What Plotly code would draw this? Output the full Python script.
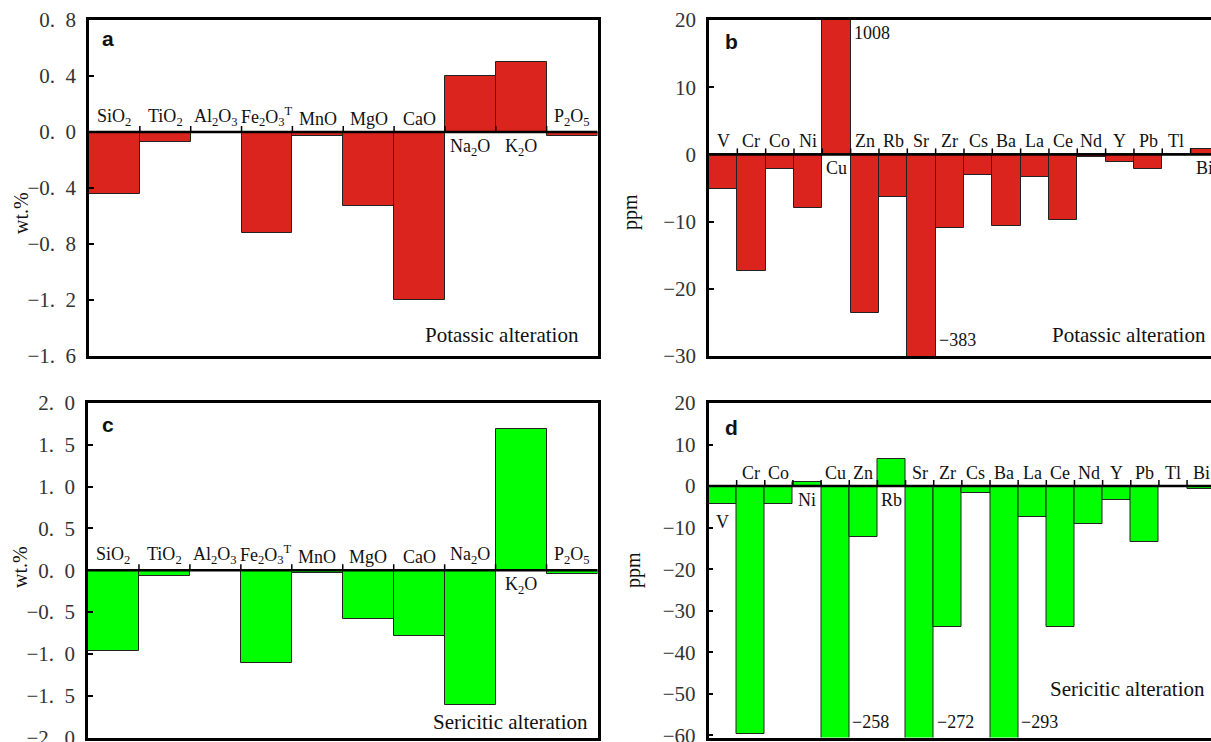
import plotly.graph_objects as go

# ---------------- data ----------------
oxides = ["SiO<sub>2</sub>", "TiO<sub>2</sub>", "Al<sub>2</sub>O<sub>3</sub>",
          "Fe<sub>2</sub>O<sub>3</sub><sup>T</sup>", "MnO", "MgO", "CaO",
          "Na<sub>2</sub>O", "K<sub>2</sub>O", "P<sub>2</sub>O<sub>5</sub>"]
potassic_major = [-0.44, -0.07, 0.0, -0.72, -0.03, -0.53, -1.20, 0.40, 0.50, -0.03]
sericitic_major = [-0.97, -0.07, 0.0, -1.11, -0.03, -0.58, -0.79, -1.61, 1.69, -0.05]

elements = ["V", "Cr", "Co", "Ni", "Cu", "Zn", "Rb", "Sr", "Zr", "Cs",
            "Ba", "La", "Ce", "Nd", "Y", "Pb", "Tl", "Bi"]
potassic_trace = [-5.1, -17.3, -2.1, -8.0, 1008, -23.6, -6.4, -383, -11.0, -3.0,
                  -10.6, -3.4, -9.7, -0.4, -1.2, -2.1, 0.0, 0.8]
sericitic_trace = [-4.3, -59.6, -4.3, 1.0, -258, -12.2, 6.6, -272, -33.9, -1.7,
                   -293, -7.4, -33.9, -9.0, -3.4, -13.4, 0.0, -0.8]

ticks_a = [0.8, 0.4, 0.0, -0.4, -0.8, -1.2, -1.6]
ticks_b = [20, 10, 0, -10, -20, -30]
ticks_c = [2.0, 1.5, 1.0, 0.5, 0.0, -0.5, -1.0, -1.5, -2.0]
ticks_d = [20, 10, 0, -10, -20, -30, -40, -50, -60]

RED = "#DC241F"
GREEN = "#00FF00"
SERIF = "Liberation Serif, Times New Roman, serif"
W, H = 1211, 742


def px(x):
    return x / W


def py(y):
    return 1 - y / H


def fmt_major(v):
    s = f"{v:.1f}".replace(".", ".\u2002")
    return s.replace("-", "\u2212")


def fmt_int(v):
    return f"{v:g}".replace("-", "\u2212")


fig = go.Figure()

panels = [
    dict(cats=oxides, vals=potassic_major, color=RED, xa="x", ya="y",
         yr=[-1.6, 0.8], ticks=ticks_a, fmt=fmt_major, xend=9.5,
         xdom=[px(89), px(597.5)], ydom=[py(356), py(20)],
         letter="a", letpos=(108, 39), alt="Potassic alteration", altpos=(581, 335), box=True,
         ytitle="wt.%", ytpos=(21, 213)),
    dict(cats=elements, vals=potassic_trace, color=RED, xa="x2", ya="y2",
         yr=[-30, 20], ticks=ticks_b, fmt=fmt_int, xend=17.22,
         xdom=[px(709), 1.0], ydom=[py(356), py(20)],
         letter="b", letpos=(731, 42), alt="Potassic alteration", altpos=(1208, 335), box=False,
         ytitle="ppm", ytpos=(630, 212)),
    dict(cats=oxides, vals=sericitic_major, color=GREEN, xa="x3", ya="y3",
         yr=[-2.0, 2.0], ticks=ticks_c, fmt=fmt_major, xend=9.5,
         xdom=[px(88), px(597.5)], ydom=[py(737.5), py(403)],
         letter="c", letpos=(108, 424), alt="Sericitic alteration", altpos=(590, 722), box=True,
         ytitle="wt.%", ytpos=(20, 567)),
    dict(cats=elements, vals=sericitic_trace, color=GREEN, xa="x4", ya="y4",
         yr=[-60.5, 20], ticks=ticks_d, fmt=fmt_int, xend=17.35,
         xdom=[px(708.5), 1.0], ydom=[py(737.5), py(403)],
         letter="d", letpos=(731, 427), alt="Sericitic alteration", altpos=(1207, 689), box=False,
         ytitle="ppm", ytpos=(633, 570)),
]

annotations = []
shapes = []
layout_axes = {}
LABEL_FONT = dict(family=SERIF, size=18, color="#111")

for p in panels:
    n = len(p["cats"])
    idx = list(range(n))
    fig.add_trace(go.Bar(
        x=idx, y=p["vals"], xaxis=p["xa"], yaxis=p["ya"], width=1.0,
        marker=dict(color=p["color"], line=dict(color="#222222", width=1)),
        hoverinfo="skip", showlegend=False,
    ))
    xkey = "xaxis" if p["xa"] == "x" else "xaxis" + p["xa"][1:]
    ykey = "yaxis" if p["ya"] == "y" else "yaxis" + p["ya"][1:]
    layout_axes[xkey] = dict(
        domain=p["xdom"], range=[-0.5, p["xend"]], anchor=p["ya"], automargin=False,
        showline=True, linecolor="black", linewidth=2.5, mirror=True,
        showticklabels=False, ticks="", showgrid=False, zeroline=False,
    )
    layout_axes[ykey] = dict(
        domain=p["ydom"], range=p["yr"], anchor=p["xa"], automargin=False,
        showline=True, linecolor="black", linewidth=2.5, mirror=p["box"],
        ticks="inside", ticklen=5, tickwidth=1.5, tickcolor="black",
        tickmode="array",
        tickvals=p["ticks"], ticktext=[p["fmt"](t) for t in p["ticks"]],
        tickfont=dict(family=SERIF, size=21, color="#333333"),
        ticklabelstandoff=6, ticklabeloverflow="allow",
        showgrid=False, zeroline=False,
    )
    # zero line
    shapes.append(dict(type="line", xref=p["xa"], yref=p["ya"], x0=-0.5, x1=n - 0.5,
                       y0=0, y1=0, line=dict(color="black", width=2.5), layer="above"))
    # boundary ticks on zero line
    for k in range(n - 1):
        shapes.append(dict(type="line", xref=p["xa"], yref=p["ya"], ysizemode="pixel",
                           yanchor=0, x0=k + 0.5, x1=k + 0.5, y0=0, y1=6,
                           line=dict(color="black", width=1.5), layer="above"))
    # category labels
    lo, hi = p["yr"]
    for k, (c, v) in enumerate(zip(p["cats"], p["vals"])):
        if p["letter"] == "d" and c == "V":
            annotations.append(dict(x=k, y=v, xref=p["xa"], yref=p["ya"], text=c,
                                    showarrow=False, yanchor="top", yshift=-6, font=LABEL_FONT))
        elif v > 0:
            annotations.append(dict(x=k, y=0, xref=p["xa"], yref=p["ya"], text=c,
                                    showarrow=False, yanchor="top", yshift=-2, font=LABEL_FONT))
        else:
            annotations.append(dict(x=k, y=0, xref=p["xa"], yref=p["ya"], text=c,
                                    showarrow=False, yanchor="bottom", yshift=1, font=LABEL_FONT))
        # off-scale values
        if v > hi:
            annotations.append(dict(x=k + 0.5, y=hi, xref=p["xa"], yref=p["ya"],
                                    text=fmt_int(v), showarrow=False, xanchor="left",
                                    yanchor="top", xshift=1, yshift=-1, font=LABEL_FONT))
        elif v < lo:
            annotations.append(dict(x=k + 0.5, y=lo, xref=p["xa"], yref=p["ya"],
                                    text=fmt_int(v), showarrow=False, xanchor="left",
                                    yanchor="bottom", xshift=1, yshift=4, font=LABEL_FONT))
    # panel letter
    annotations.append(dict(x=px(p["letpos"][0]), y=py(p["letpos"][1]), xref="paper", yref="paper",
                            text="<b>%s</b>" % p["letter"], showarrow=False,
                            xanchor="center", yanchor="middle",
                            font=dict(family="Liberation Sans, Arial, sans-serif", size=21, color="#111")))
    # alteration label
    annotations.append(dict(x=px(p["altpos"][0]), y=py(p["altpos"][1]), xref="paper", yref="paper",
                            text=p["alt"], showarrow=False, xanchor="right", yanchor="middle",
                            font=dict(family=SERIF, size=21, color="#111")))
    # y-axis title
    annotations.append(dict(x=px(p["ytpos"][0]), y=py(p["ytpos"][1]), xref="paper", yref="paper",
                            text=p["ytitle"], showarrow=False, textangle=-90,
                            xanchor="center", yanchor="middle",
                            font=dict(family=SERIF, size=20, color="#111")))

fig.update_layout(
    width=W, height=H, margin=dict(l=0, r=0, t=0, b=0, autoexpand=False),
    paper_bgcolor="white", plot_bgcolor="white",
    bargap=0, showlegend=False,
    annotations=annotations, shapes=shapes,
    **layout_axes,
)

fig.write_html("out.html", config={"displayModeBar": False},
               post_script="document.body.style.margin='0';document.body.style.overflow='hidden';")
